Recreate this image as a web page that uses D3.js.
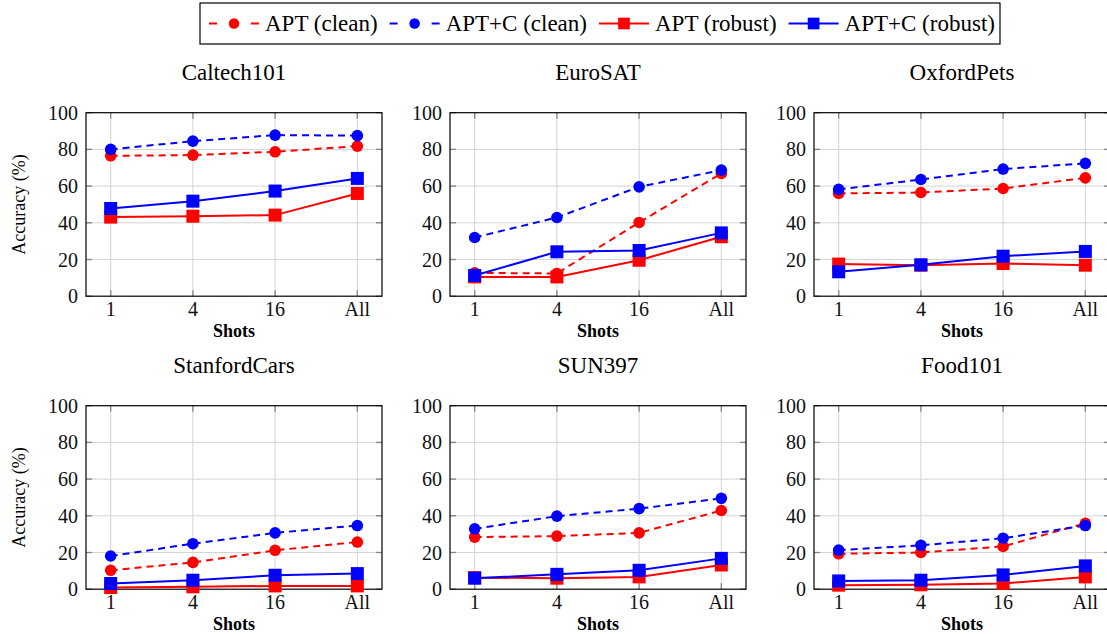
<!DOCTYPE html>
<html>
<head>
<meta charset="utf-8">
<script src="https://cdn.jsdelivr.net/npm/d3@7"></script>
<style>
  body { margin: 0; background: #fff; }
  svg text { font-family: "Liberation Serif", "DejaVu Serif", serif; }
  .grid line { stroke: #d4d4d4; stroke-width: 1; }
  .tick-mark { stroke: #8a8a8a; stroke-width: 1.4; }
</style>
</head>
<body>
<svg width="1107" height="634"></svg>
<script>
const shots = ["1", "4", "16", "All"];
const yTicks = [0, 20, 40, 60, 80, 100];

const datasets = ["Caltech101", "EuroSAT", "OxfordPets", "StanfordCars", "SUN397", "Food101"];

// one row per dataset, in the order of shots
const aptClean = [
  [76.5, 76.9, 78.7, 81.8],
  [12.7, 12.4, 40.2, 66.9],
  [56.0, 56.5, 58.7, 64.5],
  [10.3, 14.6, 21.2, 25.7],
  [28.4, 28.9, 30.7, 42.9],
  [19.3, 20.0, 23.3, 35.9]
];
const aptcClean = [
  [80.0, 84.5, 87.8, 87.5],
  [32.0, 42.9, 59.6, 68.7],
  [58.2, 63.6, 69.3, 72.4],
  [18.1, 24.8, 30.7, 34.7],
  [32.9, 39.8, 43.9, 49.5],
  [21.3, 23.9, 27.8, 34.7]
];
const aptRobust = [
  [43.1, 43.6, 44.2, 56.0],
  [10.5, 10.5, 19.6, 32.4],
  [17.5, 16.9, 17.8, 16.9],
  [0.9, 1.3, 1.8, 1.8],
  [6.3, 6.0, 6.7, 13.2],
  [2.2, 2.4, 3.1, 6.7]
];
const aptcRobust = [
  [47.8, 51.8, 57.3, 64.2],
  [11.3, 24.2, 24.9, 34.5],
  [13.3, 17.1, 21.8, 24.4],
  [3.1, 4.9, 7.6, 8.5],
  [6.0, 8.1, 10.3, 16.8],
  [4.5, 4.9, 7.8, 12.7]
];

const series = [
  { name: "APT (clean)", values: aptClean, color: "#ff0000", dashed: true, marker: "circle" },
  { name: "APT+C (clean)", values: aptcClean, color: "#0000ff", dashed: true, marker: "circle" },
  { name: "APT (robust)", values: aptRobust, color: "#ff0000", dashed: false, marker: "square" },
  { name: "APT+C (robust)", values: aptcRobust, color: "#0000ff", dashed: false, marker: "square" }
];

const FONT = "'Liberation Serif', 'DejaVu Serif', serif";
const svg = d3.select("svg").attr("font-family", FONT);

const box = { left: 86, top: 112.7, w: 296, h: 183.5, dx: 364, dy: 293 };
const tickLen = 6;

const drawMarker = (g, s, cx, cy, k = 1) => {
  if (s.marker === "circle") {
    g.append("circle").attr("cx", cx).attr("cy", cy).attr("r", 5.8 * k).attr("fill", s.color);
  } else {
    const a = 6.5 * k;
    g.append("rect").attr("x", cx - a).attr("y", cy - a)
      .attr("width", 2 * a).attr("height", 2 * a).attr("fill", s.color);
  }
};

datasets.forEach((name, di) => {
  const col = di % 3, row = Math.floor(di / 3);
  const x0 = box.left + col * box.dx;
  const y0 = box.top + row * box.dy;

  const x = d3.scalePoint().domain(shots).range([x0, x0 + box.w]).padding(0.3);
  const y = d3.scaleLinear().domain([0, 100]).range([y0 + box.h, y0]);

  const g = svg.append("g");

  // grid
  const grid = g.append("g").attr("class", "grid");
  grid.selectAll(".gx").data(shots).join("line")
    .attr("x1", d => x(d)).attr("x2", d => x(d))
    .attr("y1", y0).attr("y2", y0 + box.h);
  grid.selectAll(".gy").data(yTicks.slice(1, -1)).join("line")
    .attr("x1", x0).attr("x2", x0 + box.w)
    .attr("y1", d => y(d)).attr("y2", d => y(d));

  // tick marks on all four sides, pointing inwards
  const tm = g.append("g");
  shots.forEach(d => {
    tm.append("line").attr("class", "tick-mark")
      .attr("x1", x(d)).attr("x2", x(d)).attr("y1", y0 + box.h).attr("y2", y0 + box.h - tickLen);
    tm.append("line").attr("class", "tick-mark")
      .attr("x1", x(d)).attr("x2", x(d)).attr("y1", y0).attr("y2", y0 + tickLen);
  });
  yTicks.forEach(d => {
    tm.append("line").attr("class", "tick-mark")
      .attr("x1", x0).attr("x2", x0 + tickLen).attr("y1", y(d)).attr("y2", y(d));
    tm.append("line").attr("class", "tick-mark")
      .attr("x1", x0 + box.w).attr("x2", x0 + box.w - tickLen).attr("y1", y(d)).attr("y2", y(d));
  });

  // frame
  g.append("rect")
    .attr("x", x0).attr("y", y0).attr("width", box.w).attr("height", box.h)
    .attr("fill", "none").attr("stroke", "#000").attr("stroke-width", 1.2);

  // tick labels
  g.selectAll(".xl").data(shots).join("text")
    .attr("font-family", FONT)
    .attr("x", d => x(d)).attr("y", y0 + box.h + 20)
    .attr("text-anchor", "middle").attr("font-size", 20).attr("fill", "#111")
    .text(d => d);
  g.selectAll(".yl").data(yTicks).join("text")
    .attr("font-family", FONT)
    .attr("x", x0 - 8).attr("y", d => y(d)).attr("dy", "0.35em")
    .attr("text-anchor", "end").attr("font-size", 20).attr("fill", "#111")
    .text(d => d);

  // titles and axis labels
  g.append("text")
    .attr("font-family", FONT)
    .attr("x", x0 + box.w / 2).attr("y", y0 - 33)
    .attr("text-anchor", "middle").attr("font-size", 23)
    .text(name);
  g.append("text")
    .attr("font-family", FONT)
    .attr("x", x0 + box.w / 2).attr("y", y0 + box.h + 41)
    .attr("text-anchor", "middle").attr("font-size", 18).attr("font-weight", "bold")
    .text("Shots");
  if (col === 0) {
    g.append("text")
      .attr("font-family", FONT)
      .attr("transform", `translate(25, ${y0 + box.h / 2}) rotate(-90)`)
      .attr("text-anchor", "middle").attr("font-size", 18)
      .text("Accuracy (%)");
  }

  // series
  const line = d3.line().x((d, i) => x(shots[i])).y(d => y(d));
  series.forEach(s => {
    const vals = s.values[di];
    const sg = g.append("g");
    sg.append("path")
      .attr("d", line(vals))
      .attr("fill", "none").attr("stroke", s.color).attr("stroke-width", 2)
      .attr("stroke-dasharray", s.dashed ? "7 5" : null);
    vals.forEach((v, i) => drawMarker(sg, s, x(shots[i]), y(v)));
  });
});

// legend
const legend = svg.append("g");
const lgBox = { x: 200, y: 3, w: 800, h: 41 };
legend.append("rect")
  .attr("x", lgBox.x).attr("y", lgBox.y).attr("width", lgBox.w).attr("height", lgBox.h)
  .attr("fill", "#fff").attr("stroke", "#000").attr("stroke-width", 1.2);

let lx = lgBox.x + 9;
const ly = lgBox.y + lgBox.h / 2;
series.forEach(s => {
  const sampleW = 50;
  legend.append("line")
    .attr("x1", lx).attr("x2", lx + sampleW).attr("y1", ly).attr("y2", ly)
    .attr("stroke", s.color).attr("stroke-width", 2)
    .attr("stroke-dasharray", s.dashed ? "8 34" : null);
  drawMarker(legend, s, lx + sampleW / 2, ly, 0.9);
  const t = legend.append("text")
    .attr("font-family", FONT)
    .attr("x", lx + sampleW + 6).attr("y", ly).attr("dy", "0.34em")
    .attr("font-size", 23)
    .text(s.name);
  lx += sampleW + 6 + t.node().getComputedTextLength() + 12;
});
</script>
</body>
</html>
